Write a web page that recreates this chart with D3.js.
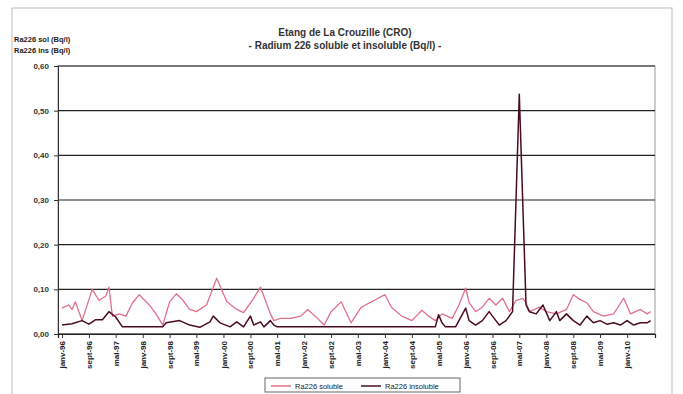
<!DOCTYPE html>
<html><head><meta charset="utf-8">
<script src="https://cdn.jsdelivr.net/npm/d3@7"></script>
<style>body{margin:0;background:#fff}svg{display:block}text{font-family:"Liberation Sans",Arial,sans-serif}</style>
</head><body>
<svg id="c" width="683" height="394"></svg>
<script>
const title1 = "Etang de La Crouzille (CRO)";
const title2 = "- Radium 226 soluble et insoluble (Bq/l) -";
const yTitle = ["Ra226 sol (Bq/l)", "Ra226 ins (Bq/l)"];
const yTicks = [0, 0.1, 0.2, 0.3, 0.4, 0.5, 0.6];
const xTickLabels = ["janv-96","sept-96","mai-97","janv-98","sept-98","mai-99","janv-00","sept-00","mai-01","janv-02","sept-02","mai-03","janv-04","sept-04","mai-05","janv-06","sept-06","mai-07","janv-08","sept-08","mai-09","janv-10"];
const seriesNames = ["Ra226 soluble", "Ra226 insoluble"];

const solDates = ["1996-01","1996-03","1996-04","1996-05","1996-07","1996-10","1996-12","1997-02","1997-03","1997-04","1997-06","1997-08","1997-10","1997-12","1998-03","1998-05","1998-07","1998-09","1998-11","1999-01","1999-03","1999-05","1999-08","1999-11","2000-02","2000-05","2000-07","2000-10","2000-12","2001-03","2001-04","2001-06","2001-09","2001-12","2002-02","2002-05","2002-07","2002-09","2002-12","2003-03","2003-06","2003-09","2003-11","2004-01","2004-03","2004-06","2004-09","2004-12","2005-02","2005-04","2005-06","2005-09","2005-11","2006-01","2006-02","2006-04","2006-06","2006-08","2006-10","2006-12","2007-02","2007-04","2007-06","2007-07","2007-08","2007-11","2008-01","2008-04","2008-07","2008-09","2008-11","2009-01","2009-03","2009-06","2009-09","2009-12","2010-02","2010-05","2010-07","2010-08"];
const solValues = [0.058,0.065,0.055,0.072,0.03,0.10,0.075,0.085,0.105,0.04,0.045,0.04,0.07,0.088,0.065,0.045,0.02,0.072,0.09,0.075,0.055,0.05,0.065,0.125,0.072,0.055,0.048,0.08,0.105,0.045,0.03,0.035,0.035,0.04,0.055,0.035,0.02,0.05,0.072,0.025,0.06,0.072,0.08,0.088,0.06,0.04,0.03,0.053,0.04,0.03,0.045,0.035,0.065,0.103,0.07,0.05,0.06,0.08,0.065,0.08,0.05,0.075,0.08,0.07,0.05,0.06,0.05,0.045,0.055,0.088,0.077,0.07,0.05,0.04,0.045,0.08,0.045,0.055,0.045,0.05];

const insDates = ["1996-01","1996-04","1996-07","1996-09","1996-11","1997-01","1997-03","1997-05","1997-07","1998-07","1998-08","1998-12","1999-03","1999-06","1999-09","1999-10","1999-12","2000-03","2000-05","2000-07","2000-09","2000-10","2000-12","2001-01","2001-03","2001-04","2001-05","2005-04","2005-05","2005-06","2005-07","2005-10","2005-11","2006-01","2006-02","2006-04","2006-06","2006-08","2006-10","2006-11","2007-01","2007-03","2007-05","2007-07","2007-08","2007-10","2007-12","2008-02","2008-04","2008-05","2008-07","2008-09","2008-11","2009-01","2009-03","2009-05","2009-07","2009-09","2009-11","2010-01","2010-03","2010-05","2010-07","2010-08"];
const insValues = [0.02,0.023,0.03,0.022,0.032,0.032,0.05,0.038,0.016,0.016,0.025,0.03,0.02,0.015,0.027,0.04,0.025,0.016,0.027,0.016,0.04,0.02,0.027,0.016,0.03,0.02,0.016,0.016,0.043,0.025,0.016,0.016,0.03,0.058,0.03,0.02,0.03,0.05,0.03,0.02,0.03,0.05,0.537,0.065,0.05,0.045,0.065,0.03,0.05,0.03,0.045,0.03,0.02,0.04,0.025,0.03,0.022,0.025,0.02,0.03,0.02,0.025,0.025,0.03];

const svg = d3.select("#c");
const parse = d3.timeParse("%Y-%m");
const pL = 58, pR = 655, pT = 66, pB = 334;

const x = d3.scaleTime()
  .domain([new Date(1995, 10, 26), new Date(2010, 8, 10)])
  .range([pL, pR]);
const y = d3.scaleLinear().domain([0, 0.6]).range([pB, pT]);

// outer frame
svg.append("rect").attr("x", 12).attr("y", 8).attr("width", 660).attr("height", 400)
  .attr("fill", "none").attr("stroke", "#bdbdbd").attr("stroke-width", 1);

// plot area border
svg.append("rect").attr("x", pL).attr("y", pT).attr("width", pR - pL).attr("height", pB - pT)
  .attr("fill", "none").attr("stroke", "#999").attr("stroke-width", 1);

// gridlines
svg.append("g").selectAll("line").data(yTicks).join("line")
  .attr("x1", pL).attr("x2", pR)
  .attr("y1", d => y(d)).attr("y2", d => y(d))
  .attr("stroke", "#222").attr("stroke-width", 1.2);

// y axis
const yAxis = d3.axisLeft(y).tickValues(yTicks).tickSize(4)
  .tickFormat(d => d3.format(".2f")(d).replace(".", ","));
const ya = svg.append("g").attr("transform", `translate(${pL},0)`).call(yAxis);
ya.select(".domain").attr("stroke", "#333");
ya.selectAll("line").attr("stroke", "#333");
ya.selectAll("text").attr("font-size", 8).attr("font-weight", "bold").attr("fill", "#333").attr("dx", -2);

// x axis
const tickDates = xTickLabels.map((d, i) => d3.timeMonth.offset(new Date(1996, 0, 1), i * 8));
const xAxis = d3.axisBottom(x).tickValues(tickDates).tickSize(4)
  .tickFormat((d, i) => xTickLabels[i]);
const xa = svg.append("g").attr("transform", `translate(0,${pB})`).call(xAxis);
xa.select(".domain").attr("stroke", "#222").attr("stroke-width", 1.2);
xa.selectAll("line").attr("stroke", "#333");
xa.selectAll("text").attr("font-size", 8).attr("font-weight", "bold").attr("fill", "#222")
  .attr("transform", "rotate(-90)").attr("text-anchor", "end")
  .attr("x", -7).attr("y", 0).attr("dy", "0.32em");

// lines
const solData = solDates.map((d, i) => ({ date: parse(d), v: solValues[i] }));
const insData = insDates.map((d, i) => ({ date: parse(d), v: insValues[i] }));
const line = d3.line().x(d => x(d.date)).y(d => y(d.v));
svg.append("path").datum(solData).attr("d", line).attr("fill", "none")
  .attr("stroke", "#e0708a").attr("stroke-width", 1.3).attr("stroke-linejoin", "round");
svg.append("path").datum(insData).attr("d", line).attr("fill", "none")
  .attr("stroke", "#4a0c22").attr("stroke-width", 1.5).attr("stroke-linejoin", "round");

// titles
svg.append("text").attr("x", 345).attr("y", 36).attr("text-anchor", "middle")
  .attr("font-size", 10).attr("font-weight", "bold").attr("fill", "#333").text(title1);
svg.append("text").attr("x", 345).attr("y", 49).attr("text-anchor", "middle")
  .attr("font-size", 10).attr("font-weight", "bold").attr("fill", "#333").text(title2);
yTitle.forEach((t, i) => svg.append("text").attr("x", 14).attr("y", 42 + i * 11)
  .attr("font-size", 7.5).attr("font-weight", "bold").attr("fill", "#222").text(t));

// legend
const lg = svg.append("g").attr("transform", "translate(265,378)");
lg.append("rect").attr("width", 195).attr("height", 14).attr("fill", "#fff").attr("stroke", "#666");
const colors = ["#e0708a", "#4a0c22"];
const offs = [6, 96];
seriesNames.forEach((n, i) => {
  lg.append("line").attr("x1", offs[i]).attr("x2", offs[i] + 20).attr("y1", 8).attr("y2", 8)
    .attr("stroke", colors[i]).attr("stroke-width", 1.5);
  lg.append("text").attr("x", offs[i] + 24).attr("y", 10.5).attr("font-size", 7.5).attr("fill", "#222").text(n);
});
</script>
</body></html>
